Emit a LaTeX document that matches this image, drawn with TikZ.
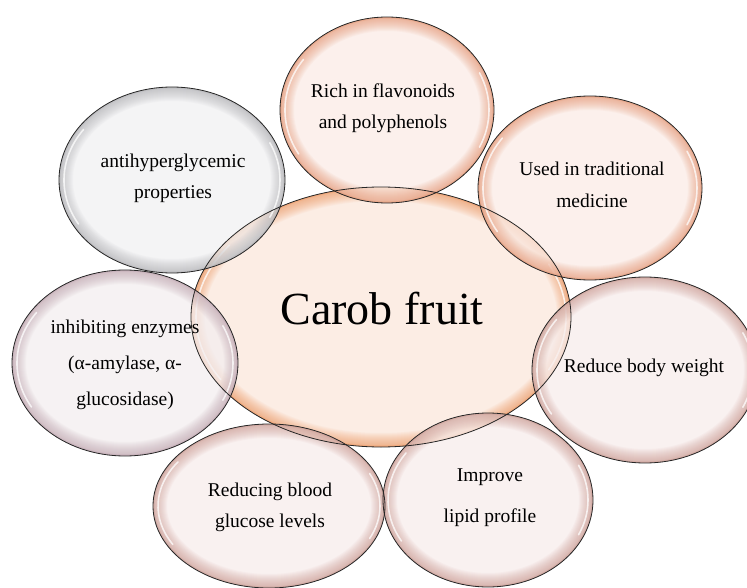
\documentclass[tikz,border=0pt]{standalone}
\usepackage{fontspec}
\setmainfont{Liberation Serif}
\usetikzlibrary{shapes.geometric}
\definecolor{peachfill}{HTML}{FCE8DB}
\definecolor{peachglow}{HTML}{F08C4E}
\definecolor{salmonfill}{HTML}{FBECE6}
\definecolor{salmonglow}{HTML}{E38A62}
\definecolor{greyfill}{HTML}{F1F1F2}
\definecolor{greyglow}{HTML}{A8A8AC}
\definecolor{mauvefill}{HTML}{F3EEF0}
\definecolor{mauveglow}{HTML}{B89AA6}
\definecolor{rosefill}{HTML}{F7EDEC}
\definecolor{roseglow}{HTML}{C68E84}
\tikzset{
  bubble/.style={ellipse, inner sep=0pt, draw=none, fill opacity=.75},
  rim/.style={draw=black!85, line width=.8pt},
  label/.style={align=center, text=black},
  small/.style={font=\fontsize{19.5}{31}\selectfont},
}
% name, cx, cy, rx, ry, fill, glow
\newcommand\mybubble[7]{%
  \node[bubble, fill=#6, minimum width=#4*2pt, minimum height=#5*2pt] (#1) at (#2,#3) {};
  \begin{scope}
    \clip (#2,#3) ellipse [x radius=#4, y radius=#5];
    \foreach \w in {2,4,...,28} {
      \draw[#7, line width=\w pt, opacity=.055] (#2,#3) ellipse [x radius=#4, y radius=#5];
    }
    \draw[#7, line width=3pt, opacity=.25] (#2,#3) ellipse [x radius=#4, y radius=#5];
    \draw[white, line width=1.6pt, opacity=.75, line cap=round] (#2,#3) ++(150:{#4-5} and {#5-5}) arc [start angle=150, end angle=215, x radius=#4-5, y radius=#5-5];
    \draw[white, line width=1.6pt, opacity=.75, line cap=round] (#2,#3) ++(-25:{#4-5} and {#5-5}) arc [start angle=-25, end angle=25, x radius=#4-5, y radius=#5-5];
  \end{scope}
}
\newcommand\myrim[3]{% name, rx, ry
  \draw[rim] (#1.center) ellipse [x radius=#2, y radius=#3];
}
\begin{document}
\begin{tikzpicture}[x=1pt, y=-1pt]
\useasboundingbox (0,0) rectangle (747,588);
\fill[white] (0,0) rectangle (747,588);
% fills
\mybubble{carob}{381}{317}{190}{130}{peachfill}{peachglow}
\mybubble{rich}{387}{110}{107}{93}{salmonfill}{salmonglow}
\mybubble{used}{590}{188}{112}{92}{salmonfill}{salmonglow}
\mybubble{anti}{172}{180}{113}{93}{greyfill}{greyglow}
\mybubble{inhib}{125}{363}{113}{93}{mauvefill}{mauveglow}
\mybubble{weight}{645}{370}{113}{93}{rosefill}{roseglow}
\mybubble{glucose}{269}{506}{116}{82}{rosefill}{roseglow}
\mybubble{lipid}{488}{500}{105}{87}{rosefill}{roseglow}
% outlines
\myrim{carob}{190}{130}
\myrim{rich}{107}{93}
\myrim{used}{112}{92}
\myrim{anti}{113}{93}
\myrim{inhib}{113}{93}
\myrim{weight}{113}{93}
\myrim{glucose}{116}{82}
\myrim{lipid}{105}{87}
% texts
\node[label, font=\fontsize{46}{55}\selectfont] (carobT) at (382,313) {Carob fruit\strut};
\node[label, small] (richT) at (383,107) {Rich in flavonoids\strut\\and polyphenols\strut};
\node[label, font=\fontsize{19.5}{32}\selectfont] (usedT) at (592,185) {Used in traditional\strut\\medicine\strut};
\node[label, small] (antiT) at (173,177) {antihyperglycemic\strut\\properties\strut};
\node[label, font=\fontsize{19.5}{36}\selectfont] (inhibT) at (125,362) {inhibiting enzymes\strut\\(α-amylase, α-\strut\\glucosidase)\strut};
\node[label, small] (weightT) at (644,366) {Reduce body weight\strut};
\node[label, small] (glucoseT) at (270,506) {Reducing blood\strut\\glucose levels\strut};
\node[label, font=\fontsize{19.5}{41}\selectfont] (lipidT) at (490,494) {Improve\strut\\lipid profile\strut};
\end{tikzpicture}
\end{document}
